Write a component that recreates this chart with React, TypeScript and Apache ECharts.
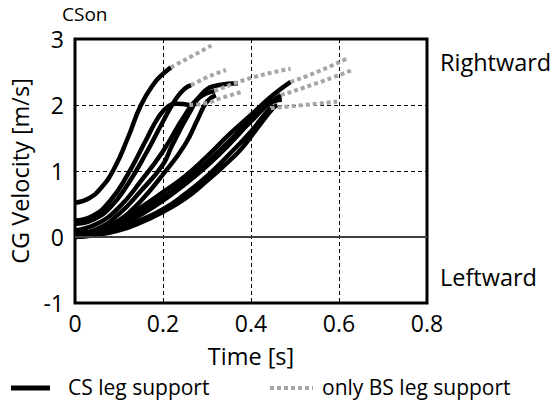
import React, { useEffect, useRef } from "react";
import * as echarts from "echarts";

type Pt = [number, number];

// CS leg support (black) curves: [time s, velocity m/s]
const csA: Pt[] = [[0,0.52],[0.03,0.58],[0.06,0.75],[0.09,1.05],[0.12,1.5],[0.15,2.0],[0.18,2.33],[0.2,2.47],[0.218,2.57]];
const csB: Pt[] = [[0,0.25],[0.04,0.32],[0.08,0.55],[0.12,0.95],[0.16,1.45],[0.19,1.82],[0.21,1.97],[0.23,2.02],[0.26,2.0]];
const csC: Pt[] = [[0,0.2],[0.04,0.26],[0.08,0.45],[0.12,0.8],[0.16,1.25],[0.2,1.75],[0.23,2.1],[0.25,2.25],[0.264,2.3]];
const csD: Pt[] = [[0,0.1],[0.05,0.2],[0.1,0.45],[0.15,0.85],[0.2,1.3],[0.25,1.85],[0.28,2.1],[0.317,2.21]];
const csE: Pt[] = [[0,0.05],[0.05,0.12],[0.1,0.35],[0.15,0.7],[0.2,1.1],[0.22,1.38],[0.26,1.88],[0.29,2.18],[0.325,2.3],[0.37,2.33]];
const csF: Pt[] = [[0,0.03],[0.05,0.08],[0.1,0.25],[0.15,0.55],[0.2,0.95],[0.25,1.4],[0.28,1.8],[0.3,2.05],[0.32,2.15]];
const csL1: Pt[] = [[0,0.03],[0.05,0.1],[0.1,0.25],[0.15,0.45],[0.2,0.68],[0.25,0.92],[0.3,1.22],[0.35,1.55],[0.4,1.85],[0.45,2.15],[0.49,2.35]];
const csL2: Pt[] = [[0,0.02],[0.05,0.07],[0.1,0.2],[0.15,0.4],[0.2,0.6],[0.25,0.85],[0.3,1.13],[0.35,1.45],[0.4,1.78],[0.44,2.02],[0.468,2.15]];
const csL3: Pt[] = [[0,0],[0.05,0.04],[0.1,0.12],[0.15,0.26],[0.2,0.42],[0.25,0.65],[0.3,0.92],[0.35,1.25],[0.4,1.6],[0.43,1.85],[0.445,1.95]];
const csL4: Pt[] = [[0,0.01],[0.05,0.05],[0.1,0.16],[0.15,0.34],[0.2,0.55],[0.25,0.8],[0.3,1.08],[0.35,1.4],[0.4,1.75],[0.45,2.05],[0.47,2.08]];
const csL5: Pt[] = [[0,0],[0.05,0.03],[0.1,0.1],[0.15,0.22],[0.2,0.38],[0.25,0.58],[0.3,0.85],[0.35,1.15],[0.38,1.35],[0.42,1.7],[0.45,1.95],[0.46,2.0]];

// only BS leg support (gray dotted) continuations
const bsA: Pt[] = [[0.218,2.57],[0.26,2.72],[0.31,2.9]];
const bsB: Pt[] = [[0.26,2.0],[0.3,2.03],[0.33,2.1],[0.38,2.2]];
const bsC: Pt[] = [[0.264,2.3],[0.3,2.42],[0.343,2.53]];
const bsD: Pt[] = [[0.317,2.21],[0.4,2.41],[0.49,2.55]];
const bsL1: Pt[] = [[0.49,2.35],[0.55,2.5],[0.62,2.71]];
const bsL2: Pt[] = [[0.468,2.15],[0.55,2.33],[0.63,2.53]];
const bsL3: Pt[] = [[0.445,1.95],[0.52,2.0],[0.596,2.05]];

const csSeries: Pt[][] = [csA, csB, csC, csD, csE, csF, csL1, csL2, csL3, csL4, csL5];
const bsSeries: Pt[][] = [bsA, bsB, bsC, bsD, bsL1, bsL2, bsL3];

const CS_NAME = "CS leg support";
const BS_NAME = "only BS leg support";
const FONT = "Open Sans";
const BLACK = "#000";
const GRAY = "#a6a6a6";

export default function App() {
  const ref = useRef<HTMLDivElement>(null);
  useEffect(() => {
    if (!ref.current) return;
    const chart = echarts.init(ref.current, undefined, { renderer: "svg" });
    const series: any[] = [];
    csSeries.forEach((d, i) => {
      series.push({
        name: CS_NAME,
        type: "line",
        data: d,
        smooth: true,
        showSymbol: false,
        symbol: "none",
        lineStyle: { color: BLACK, width: 4.5 },
        itemStyle: { color: BLACK },
        z: 3,
        markLine: i === 0 ? {
          silent: true,
          symbol: "none",
          label: { show: false },
          lineStyle: { color: "#404040", width: 2, type: "solid" },
          data: [{ yAxis: 0 }],
        } : undefined,
      });
    });
    bsSeries.forEach((d) => {
      series.push({
        name: BS_NAME,
        type: "line",
        data: d,
        smooth: true,
        showSymbol: false,
        symbol: "none",
        lineStyle: { color: GRAY, width: 4, type: [4, 3] },
        itemStyle: { color: GRAY },
        z: 4,
      });
    });
    chart.setOption({
      animation: false,
      textStyle: { fontFamily: FONT },
      grid: {
        left: 73, top: 39, width: 354, height: 264,
        show: true, borderColor: "#000", borderWidth: 3, backgroundColor: "transparent",
      },
      xAxis: {
        type: "value", min: 0, max: 0.8, interval: 0.2,
        name: "Time [s]", nameLocation: "middle", nameGap: 41,
        nameTextStyle: { fontSize: 23.5, color: "#000", fontFamily: FONT },
        axisLine: { show: false }, axisTick: { show: false },
        axisLabel: { fontSize: 23, color: "#000", margin: 8, fontFamily: FONT },
        splitLine: { show: true, lineStyle: { color: "#000", type: [4, 3], width: 1 } },
      },
      yAxis: {
        type: "value", min: -1, max: 3, interval: 1,
        name: "CG Velocity [m/s]", nameLocation: "middle", nameGap: 43,
        nameTextStyle: { fontSize: 23.5, color: "#000", fontFamily: FONT },
        axisLine: { show: false }, axisTick: { show: false },
        axisLabel: { fontSize: 23, color: "#000", margin: 11, fontFamily: FONT },
        splitLine: { show: true, lineStyle: { color: "#000", type: [4, 3], width: 1 } },
      },
      graphic: [
        { type: "text", x: 62, y: 14, style: { text: "CSon", fontSize: 19, fill: "#000", fontFamily: FONT, verticalAlign: "middle" } },
        { type: "text", x: 440, y: 62, style: { text: "Rightward", fontSize: 23.5, fill: "#000", fontFamily: FONT, verticalAlign: "middle" } },
        { type: "text", x: 440, y: 277, style: { text: "Leftward", fontSize: 23.5, fill: "#000", fontFamily: FONT, verticalAlign: "middle" } },
        { type: "line", shape: { x1: 11, y1: 388, x2: 50, y2: 388 }, style: { stroke: BLACK, lineWidth: 5 } },
        { type: "text", x: 68, y: 387, style: { text: CS_NAME, fontSize: 21, fill: "#000", fontFamily: FONT, verticalAlign: "middle" } },
        { type: "line", shape: { x1: 270, y1: 388, x2: 313, y2: 388 }, style: { stroke: GRAY, lineWidth: 4, lineDash: [4, 3] } },
        { type: "text", x: 322, y: 387, style: { text: BS_NAME, fontSize: 21, fill: "#000", fontFamily: FONT, verticalAlign: "middle" } },
      ],
      series,
    });
    return () => chart.dispose();
  }, []);
  return <div ref={ref} style={{ width: 555, height: 403, position: "absolute", left: 0, top: 0 }} />;
}
